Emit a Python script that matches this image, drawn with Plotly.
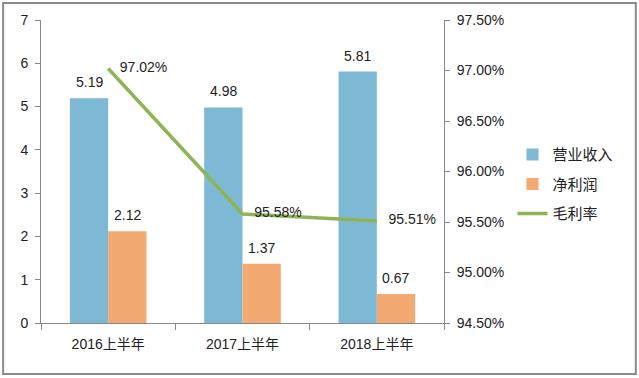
import plotly.graph_objects as go

categories = ["2016上半年", "2017上半年", "2018上半年"]
revenue = [5.19, 4.98, 5.81]
net_profit = [2.12, 1.37, 0.67]
gross_margin = [0.9702, 0.9558, 0.9551]

FONT = "Liberation Sans, Noto Sans CJK SC, sans-serif"

fig = go.Figure()
fig.add_trace(go.Bar(
    x=categories, y=revenue, name="营业收入", legendgroup="a",
    marker=dict(color="#7DB9D5", line=dict(width=0)),
    offsetgroup="a",
))
fig.add_trace(go.Bar(
    x=categories, y=net_profit, name="净利润", legendgroup="b",
    marker=dict(color="#F2AA70", line=dict(width=0)),
    offsetgroup="b",
))
fig.add_trace(go.Scatter(
    x=categories, y=gross_margin, name="毛利率", yaxis="y2", legendgroup="c",
    mode="lines+text", line=dict(color="#8FB455", width=3.5),
    text=[f"   {v*100:.2f}%" for v in gross_margin],
    textposition="middle right",
    textfont=dict(size=14, color="#222", family=FONT), cliponaxis=False,
))

annotations = []
for i, c in enumerate(categories):
    annotations.append(dict(x=c, y=revenue[i], xref="x", yref="y",
                            text=f"{revenue[i]:.2f}", showarrow=False,
                            xshift=-19, yshift=16, font=dict(size=14, color="#222")))
    annotations.append(dict(x=c, y=net_profit[i], xref="x", yref="y",
                            text=f"{net_profit[i]:.2f}", showarrow=False,
                            xshift=19, yshift=16, font=dict(size=14, color="#222")))

fig.update_layout(
    width=639, height=378,
    margin=dict(l=41, r=195, t=20, b=55),
    paper_bgcolor="white", plot_bgcolor="white",
    font=dict(family=FONT, size=14, color="#222"),
    barmode="group", bargap=0.43, bargroupgap=0,
    showlegend=True,
    legend=dict(x=1.17, y=0.61, xanchor="left", yanchor="top",
                font=dict(size=15, family="Noto Sans CJK SC, sans-serif", color="#222"),
                bgcolor="rgba(0,0,0,0)", tracegroupgap=7,
                itemwidth=30),
    xaxis=dict(showline=True, linecolor="#888", linewidth=1,
               ticks="outside", tickson="boundaries", ticklen=6, tickcolor="#888",
               tickfont=dict(size=14, family=FONT), showgrid=False,
               ticklabelstandoff=8),
    yaxis=dict(range=[0, 7], dtick=1, showline=True, linecolor="#888", linewidth=1,
               ticks="outside", ticklen=5, tickcolor="#888", showgrid=False,
               zeroline=False, tickfont=dict(size=14), ticklabelstandoff=4),
    yaxis2=dict(range=[0.945, 0.975], dtick=0.005, tickformat=".2%",
                overlaying="y", side="right", showline=True, linecolor="#888",
                linewidth=1, ticks="outside", ticklen=5, tickcolor="#888",
                showgrid=False, zeroline=False, tickfont=dict(size=14),
                ticklabelstandoff=4),
    annotations=annotations,
    shapes=[dict(type="rect", xref="paper", yref="paper",
                 x0=-0.094, x1=1.476, y0=-0.168, y1=1.056,
                 line=dict(color="#8A8A8A", width=2), fillcolor="rgba(0,0,0,0)",
                 layer="below")],
)

fig.write_html("out.html", config={"displayModeBar": False},
               post_script="document.body.style.margin='0';document.body.style.overflow='hidden';")
